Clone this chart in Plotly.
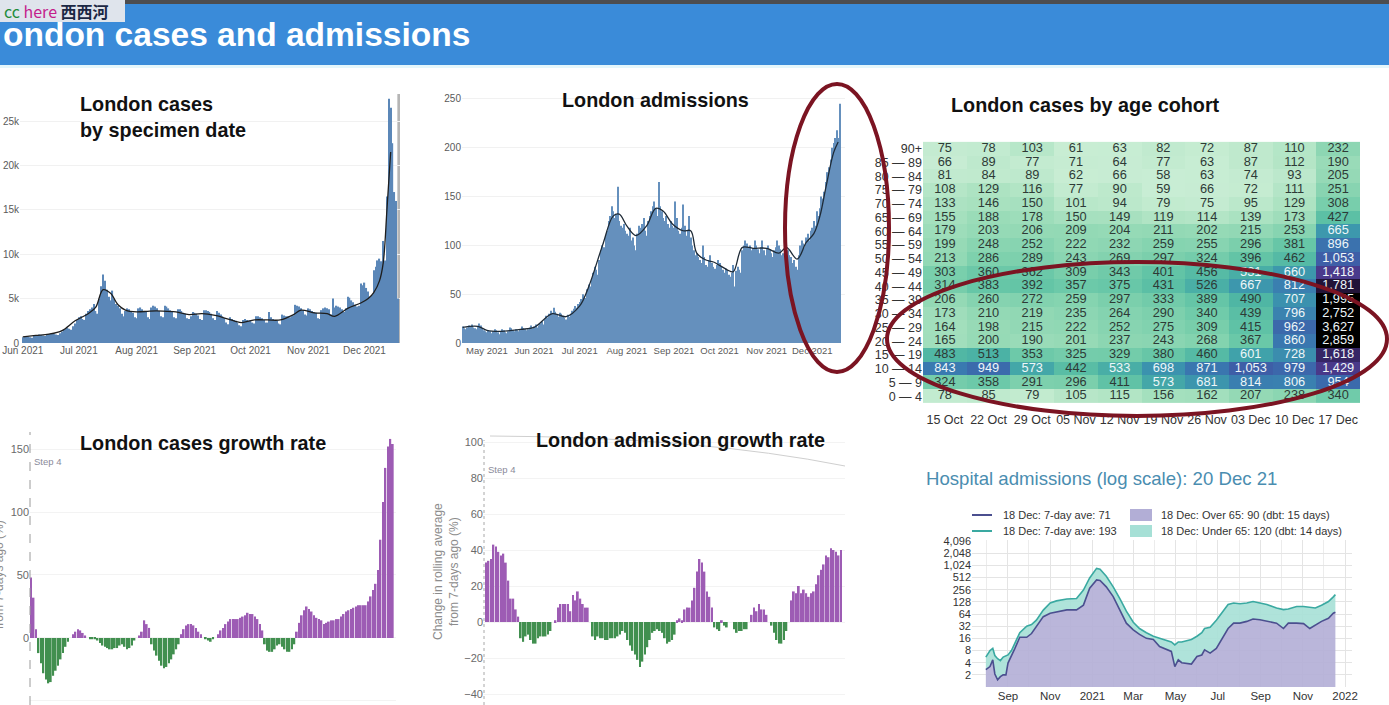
import plotly.graph_objects as go
import pandas as pd

W, H = 1389, 705
def X(px): return px / W
def Y(py): return 1 - py / H

FONT = "Liberation Sans, Arial, sans-serif"

# ---------------- data ----------------
cases_start = "2021-06-01"
cases_daily = [
    650, 700, 720, 700, 650, 600, 800,
    850, 900, 950, 900, 850, 780, 950,
    1000, 1050, 1100, 1000, 950, 900, 1100,
    1300, 1500, 1600, 1700, 1600, 1500, 1900, 2200, 2600,
    2900, 3000, 2700, 2600, 3300, 3600, 3800,
    4000, 4400, 3600, 3300, 5000, 6400, 7700,
    7000, 6000, 5200, 4800, 5900, 5000, 4400,
    4200, 3900, 3300, 3000, 3600, 3900, 3800, 3600, 3400, 2900,
    2800, 3900, 4000, 3800, 3600, 3500, 2900,
    2700, 4000, 4200, 4100, 3900, 3600, 3000,
    2900, 4200, 4100, 3900, 3700, 3500, 2900,
    2800, 3800, 3800, 3600, 3400, 3300, 2800, 2700, 3000, 3500,
    3400, 3300, 3100, 2700, 2600, 3700, 3700,
    3600, 3500, 3300, 2800, 2600, 3600, 3400,
    3200, 3000, 2800, 2300, 2100, 2900, 2700,
    2600, 2500, 2300, 2000, 1900, 2600, 2700, 2600, 2500,
    2500, 2300, 2200, 3000, 3000, 2900, 2800,
    2600, 2300, 2300, 3500, 2900, 2700, 2600,
    2500, 2200, 2100, 3200, 3100, 3000, 3000,
    2900, 3000, 3100, 4300, 4200, 4100, 3900, 3700, 3200, 3100,
    3900, 3800, 3600, 3500, 3400, 2800, 2700,
    3700, 3900, 4000, 3900, 3800, 3200, 5000,
    4000, 4200, 4100, 4000, 3800, 3500, 3900,
    5200, 5100, 4800, 4600, 4300, 4100, 4200, 6700, 6500,
    6800, 6200, 5800, 5200, 5400, 8200, 8600,
    9300, 9500, 9200, 11500, 9300, 16500, 27500,
    26500, 22500, 17000, 16000, 5000,
]
cases_trend_dates = [
    "2021-06-01", "2021-06-08", "2021-06-15", "2021-06-22", "2021-06-29",
    "2021-07-06", "2021-07-10", "2021-07-14", "2021-07-18", "2021-07-22",
    "2021-07-26", "2021-08-01", "2021-08-08", "2021-08-15", "2021-08-22",
    "2021-08-29", "2021-09-05", "2021-09-12", "2021-09-19", "2021-09-26",
    "2021-10-03", "2021-10-10", "2021-10-17", "2021-10-24", "2021-10-28",
    "2021-11-04", "2021-11-11", "2021-11-15", "2021-11-22", "2021-11-29",
    "2021-12-03", "2021-12-06", "2021-12-09", "2021-12-11", "2021-12-13",
    "2021-12-15",
]
cases_trend = [
    700, 850, 1000, 1400, 2500, 3300, 4000, 6000, 5600, 4300,
    3700, 3500, 3600, 3600, 3500, 3200, 3300, 3100, 2700, 2300,
    2600, 2600, 2600, 3200, 3700, 3400, 3300, 3000, 3900, 4500,
    5000, 5700, 7000, 9000, 15000, 21500,
]

adm_start = "2021-04-15"
adm_daily = [
    17, 15, 14, 16, 18, 17, 19, 16, 15, 14, 17, 20, 18, 15, 13, 12,
    11, 13, 12, 10, 12, 14, 13, 11, 9, 12, 14, 13, 11, 10, 12, 16,
    15, 13, 12, 14, 13, 12, 14, 17, 15, 14, 13, 14, 16, 18, 15,
    17, 19, 16, 18, 20, 22, 19, 24, 28, 26, 30, 33, 31, 36, 32,
    29, 27, 31, 30, 28, 26, 24, 29, 27, 30, 33, 35, 38, 36, 40,
    42, 45, 50, 48, 46, 55, 60, 58, 65, 72, 78, 75, 70, 85, 95,
    100, 98, 110, 115, 125, 130, 140, 135, 128, 132, 160, 125, 120, 118, 122, 115,
    112, 110, 118, 105, 108, 100, 95, 112, 120, 118, 122, 128, 115, 110, 125,
    130, 135, 140, 145, 138, 130, 165, 140, 135, 128, 125, 130, 122, 118, 125, 120,
    118, 145, 128, 115, 112, 118, 142, 120, 110, 115, 130, 108, 100, 95, 90,
    92, 88, 85, 82, 100, 88, 80, 78, 85, 90, 82, 78, 76, 80, 85,
    82, 78, 75, 72, 76, 74, 70, 68, 72, 80, 58, 74, 78, 75, 72, 95,
    100, 105, 102, 98, 100, 95, 97, 105, 100, 96, 92, 98, 105, 95, 90,
    97, 100, 96, 92, 88, 95, 98, 105, 100, 96, 90, 92, 108, 120, 95,
    90, 88, 82, 85, 78, 75, 90, 100, 105, 102, 98, 108, 112, 105, 115,
    118, 125, 120, 135, 130, 138, 150, 148, 155, 165, 175, 180, 188, 200,
    205, 210, 218, 210, 245,
]
adm_trend_dates = [
    "2021-04-15", "2021-04-25", "2021-05-01", "2021-05-10", "2021-05-23",
    "2021-06-01", "2021-06-13", "2021-06-22", "2021-07-01", "2021-07-07",
    "2021-07-16", "2021-07-23", "2021-07-27", "2021-08-01", "2021-08-07",
    "2021-08-14", "2021-08-20", "2021-08-25", "2021-08-31", "2021-09-07",
    "2021-09-12", "2021-09-16", "2021-09-22", "2021-09-27", "2021-10-06",
    "2021-10-10", "2021-10-16", "2021-10-23", "2021-11-01", "2021-11-09",
    "2021-11-14", "2021-11-21", "2021-11-27", "2021-12-02", "2021-12-06",
    "2021-12-10", "2021-12-15", "2021-12-18",
]
adm_trend = [
    16, 17, 13, 12, 14, 16, 30, 27, 38, 58,
    100, 130, 132, 120, 110, 120, 138, 135, 122, 115,
    115, 92, 85, 83, 75, 73, 98, 97, 97, 92,
    98, 86, 103, 112, 130, 160, 195, 206,
]

age_groups = ["90+", "85 — 89", "80 — 84", "75 — 79", "70 — 74", "65 — 69",
              "60 — 64", "55 — 59", "50 — 54", "45 — 49", "40 — 44", "35 — 39",
              "30 — 34", "25 — 29", "20 — 24", "15 — 19", "10 — 14", "5 — 9", "0 — 4"]
weeks = ["15 Oct", "22 Oct", "29 Oct", "05 Nov", "12 Nov", "19 Nov",
         "26 Nov", "03 Dec", "10 Dec", "17 Dec"]
cohort_cases = [
    [75, 78, 103, 61, 63, 82, 72, 87, 110, 232],
    [66, 89, 77, 71, 64, 77, 63, 87, 112, 190],
    [81, 84, 89, 62, 66, 58, 63, 74, 93, 205],
    [108, 129, 116, 77, 90, 59, 66, 72, 111, 251],
    [133, 146, 150, 101, 94, 79, 75, 95, 129, 308],
    [155, 188, 178, 150, 149, 119, 114, 139, 173, 427],
    [179, 203, 206, 209, 204, 211, 202, 215, 253, 665],
    [199, 248, 252, 222, 232, 259, 255, 296, 381, 896],
    [213, 286, 289, 243, 269, 297, 324, 396, 462, 1053],
    [303, 360, 362, 309, 343, 401, 456, 531, 660, 1418],
    [314, 383, 392, 357, 375, 431, 526, 667, 812, 1781],
    [206, 260, 272, 259, 297, 333, 389, 490, 707, 1995],
    [173, 210, 219, 235, 264, 290, 340, 439, 796, 2752],
    [164, 198, 215, 222, 252, 275, 309, 415, 962, 3627],
    [165, 200, 190, 201, 237, 243, 268, 367, 860, 2859],
    [483, 513, 353, 325, 329, 380, 460, 601, 728, 1618],
    [843, 949, 573, 442, 533, 698, 871, 1053, 979, 1429],
    [324, 358, 291, 296, 411, 573, 681, 814, 806, 954],
    [78, 85, 79, 105, 115, 156, 162, 207, 238, 340],
]

growth_start = "2021-07-19"
cases_growth = [
    48, 32, 7,
    -12, -20, -28, -33, -36, -35, -30, -26, -22, -17, -12, -7, -3,
    0, 3, 5, 7, 6, 4, 2, 0,
    -1, -1, -1, -2, -4, -6, -7, -8, -9, -9, -8, -8, -6, -5, -7, -9, -8, -6, -2,
    0, 2, 5, 14, 11, 8,
    -5, -10, -14, -18, -22, -24, -23, -20, -17, -13, -9, -5,
    3, 7, 10, 11, 11, 10, 8, 5, 3,
    0, -1, -2, -3, -1, 0,
    3, 6, 8, 11, 13, 15, 15, 15, 15, 16, 17, 18, 20, 19, 19, 17, 15, 11, 6,
    -5, -10, -11, -11, -9, -6, -5, -7, -9, -11, -11, -9, -5,
    5, 12, 18, 22, 25, 23, 21, 18, 16, 15, 14, 11, 12, 13, 14, 14, 15, 15, 17, 19,
    21, 22, 23, 24, 25, 26, 26, 26, 26, 29, 33, 38, 43, 54, 78, 108, 135, 152, 158, 154,
]
adm_growth = [
    33, 34, 35, 43, 42, 39, 37, 38, 33, 23, 13, 13, 7, 3,
    -9, -11, -8, -7, -10, -12, -12, -9, -8, -8, -8, -7, -5,
    0, 1,
    8, 10, 10, 10, 10, 6, 15, 12, 17, 13, 10, 8, 8,
    0,
    -8, -10, -8, -9, -9, -10, -10, -9, -9, -9, -8, -7, -5, -6,
    -10, -13, -16, -18, -21, -25, -22, -18, -14, -10, -6, -5, -4, -5, -6, -9, -12, -11, -10, -7,
    1, 2, 1,
    7, 8, 8, 12, 19, 28, 35, 33, 28, 17, 14, 8,
    -3, -4, -5, 1, -2, -3, 0, 0, -4, -6, -5, -5, -4, -4, 0,
    4, 8, 6, 10, 7, 7, 4, 0,
    -2, -6, -10, -12, -12, -10, -5, 0,
    12, 17, 16, 20, 16, 18, 16, 14, 16, 17, 21, 26, 29, 32, 37, 36, 41, 40, 39, 37, 40,
]

hosp_dates = [
    "2020-07-31", "2020-08-06", "2020-08-10", "2020-08-13", "2020-08-17", "2020-08-21",
    "2020-08-25", "2020-08-29", "2020-09-01", "2020-09-06", "2020-09-11", "2020-09-18",
    "2020-09-28", "2020-10-05", "2020-10-12", "2020-10-22", "2020-11-01", "2020-11-10",
    "2020-11-25", "2020-12-09", "2020-12-19", "2020-12-28", "2021-01-07", "2021-01-12",
    "2021-01-21", "2021-01-31", "2021-02-10", "2021-02-19", "2021-03-01", "2021-03-10",
    "2021-03-20", "2021-03-30", "2021-04-08", "2021-04-18", "2021-04-25", "2021-04-30",
    "2021-05-05", "2021-05-10", "2021-05-17", "2021-05-24", "2021-06-01", "2021-06-08",
    "2021-06-12", "2021-06-20", "2021-06-29", "2021-07-07", "2021-07-16", "2021-07-24",
    "2021-08-02", "2021-08-12", "2021-08-21", "2021-08-31", "2021-09-10", "2021-09-24",
    "2021-10-04", "2021-10-11", "2021-10-23", "2021-11-02", "2021-11-11", "2021-11-19",
    "2021-11-28", "2021-12-08", "2021-12-15", "2021-12-18",
]
hosp_total = [
    5.5, 8, 9, 6, 5, 4.5, 5.5, 6, 6.2, 8, 12, 22,
    32, 35, 45, 80, 120, 135, 150, 155, 250, 500, 860, 820,
    550, 300, 150, 75, 40, 28, 22, 18, 16, 14, 13, 11,
    13, 13, 14, 15, 18, 22, 28, 30, 45, 70, 110, 120,
    115, 120, 130, 120, 110, 90, 82, 85, 98, 98, 95, 90,
    105, 130, 170, 193,
]
hosp_over65 = [
    2.7, 3.2, 4.7, 2.1, 1.5, 1.8, 2, 2, 3.9, 5.7, 9, 17,
    17, 21, 31, 55, 67, 73, 81, 81, 106, 278, 445, 430,
    300, 172, 81, 38, 26, 20, 16, 15, 10, 8.3, 7.6, 3.2,
    4.7, 4.0, 3.9, 3.7, 5.7, 6.2, 8.3, 6.9, 9, 16, 28, 38,
    38, 42, 48, 46, 42, 38, 28, 38, 38, 37, 28, 34,
    42, 50, 67, 71,
]
hosp_ticks = [2, 4, 8, 16, 32, 64, 128, 256, 512, 1024, 2048, 4096]
hosp_xticks = ["2020-09-01", "2020-11-01", "2021-01-01", "2021-03-01", "2021-05-01",
               "2021-07-01", "2021-09-01", "2021-11-01", "2022-01-01"]
hosp_xlabels = ["Sep", "Nov", "2021", "Mar", "May", "Jul", "Sep", "Nov", "2022"]

# ---------------- derived ----------------
cases_dates = pd.date_range(cases_start, periods=len(cases_daily), freq="D")
adm_dates = pd.date_range(adm_start, periods=len(adm_daily), freq="D")
cg_dates = pd.date_range(growth_start, periods=len(cases_growth), freq="D")
ag_dates = pd.date_range(growth_start, periods=len(adm_growth), freq="D")

PURPLE = "#9d5cb4"
GREEN = "#418f4f"
BLUE_BAR = "#5b87b8"

fig = go.Figure()

# Panel 1: cases
fig.add_trace(go.Bar(x=cases_dates, y=cases_daily, marker_color=BLUE_BAR,
                     marker_line_width=0, xaxis="x", yaxis="y"))
fig.add_trace(go.Scatter(x=pd.to_datetime(cases_trend_dates), y=cases_trend, mode="lines",
                         line=dict(color="#1e1e1e", width=1.3, shape="spline"),
                         xaxis="x", yaxis="y"))
# Panel 2: admissions
fig.add_trace(go.Bar(x=adm_dates, y=adm_daily, marker_color="#6590bd",
                     marker_line_width=0, xaxis="x2", yaxis="y2"))
fig.add_trace(go.Scatter(x=pd.to_datetime(adm_trend_dates), y=adm_trend, mode="lines",
                         line=dict(color="#1e2a36", width=1.3, shape="spline"),
                         xaxis="x2", yaxis="y2"))

# Panel 3: heatmap
cscale = [
    [0.00, "#d4f1dc"], [0.035, "#c6ecd2"], [0.06, "#b0e4c4"], [0.10, "#96dab6"],
    [0.15, "#7acfac"], [0.20, "#62c4a6"], [0.25, "#4db4a4"], [0.30, "#40a2aa"],
    [0.35, "#3b92ae"], [0.42, "#3a7ab0"], [0.50, "#3c64aa"], [0.60, "#444e9e"],
    [0.71, "#4a3a8c"], [0.80, "#38286a"], [0.89, "#221438"], [0.96, "#060308"],
    [1.00, "#000000"],
]
fig.add_trace(go.Heatmap(z=cohort_cases, x=weeks, y=age_groups, colorscale=cscale,
                         zmin=0, zmax=2000, showscale=False, xgap=0, ygap=0,
                         xaxis="x3", yaxis="y3", hoverinfo="skip"))
tx, ty, tt, tc = [], [], [], []
for r, ag in enumerate(age_groups):
    for c, wk in enumerate(weeks):
        v = cohort_cases[r][c]
        tx.append(wk); ty.append(ag); tt.append(f"{v:,}")
        tc.append("#eef6f8" if v >= 530 else "#2e3a36")
fig.add_trace(go.Scatter(x=tx, y=ty, text=tt, mode="text",
                         textfont=dict(color=tc, size=12.8, family=FONT),
                         xaxis="x3", yaxis="y3", hoverinfo="skip"))

# Panel 4: cases growth
fig.add_trace(go.Bar(x=cg_dates, y=cases_growth,
                     marker_color=[PURPLE if v > 0 else GREEN for v in cases_growth],
                     marker_line_width=0, xaxis="x4", yaxis="y4"))
# Panel 5: admissions growth
fig.add_trace(go.Bar(x=ag_dates, y=adm_growth,
                     marker_color=[PURPLE if v > 0 else GREEN for v in adm_growth],
                     marker_line_width=0, xaxis="x5", yaxis="y5"))

# Panel 6: hospital admissions (log)
hd = pd.to_datetime(hosp_dates)
fig.add_trace(go.Scatter(x=hd, y=[1] * len(hd), mode="lines", line=dict(width=0, color="rgba(0,0,0,0)"),
                         xaxis="x6", yaxis="y6", hoverinfo="skip"))
fig.add_trace(go.Scatter(x=hd, y=hosp_over65, mode="lines", fill="tonexty",
                         fillcolor="rgba(178,174,214,0.9)",
                         line=dict(color="#4b4f8f", width=1.6), xaxis="x6", yaxis="y6"))
fig.add_trace(go.Scatter(x=hd, y=hosp_total, mode="lines", fill="tonexty",
                         fillcolor="rgba(166,224,214,0.9)",
                         line=dict(color="#3aa9a1", width=1.6), xaxis="x6", yaxis="y6"))

tickfont_small = dict(size=10, color="#5a5a5a", family=FONT)

def day_shift(d, days):
    return (pd.Timestamp(d) + pd.Timedelta(days=days)).strftime("%Y-%m-%d %H:%M")

NOAM = dict(automargin=False)

layout = dict(
    template="none",
    width=W, height=H, margin=dict(l=0, r=0, t=0, b=0, pad=0), autosize=False,
    paper_bgcolor="white", plot_bgcolor="white", showlegend=False,
    bargap=0.3, font=dict(family=FONT),
    xaxis=dict(domain=[X(20), X(400)], anchor="y", type="date",
               range=["2021-05-30 12:00", "2021-12-20 00:00"],
               tickformat="%b %Y", dtick="M1", tick0="2021-06-01",
               showgrid=False, zeroline=False, tickfont=tickfont_small, ticks="", **NOAM),
    yaxis=dict(domain=[Y(343), Y(94)], anchor="x", range=[0, 28040], dtick=5000,
               tickformat="~s", gridcolor="#f1f1f1", zeroline=False,
               tickfont=tickfont_small, ticks="", **NOAM),
    xaxis2=dict(domain=[X(462), X(845)], anchor="y2", type="date",
                range=["2021-04-14 14:00", "2021-12-22 12:00"],
                tickformat="%b %Y", dtick="M1", tick0="2021-05-01",
                showgrid=False, zeroline=False,
                tickfont=dict(size=9.5, color="#5a5a5a", family=FONT), ticks="", **NOAM),
    yaxis2=dict(domain=[Y(343), Y(94)], anchor="x2", range=[0, 255.1], dtick=50,
                gridcolor="#f1f1f1", zeroline=False, tickfont=tickfont_small, ticks="", **NOAM),
    xaxis3=dict(domain=[X(923), X(1360)], anchor="y3", showgrid=False, zeroline=False,
                tickmode="array", tickvals=weeks,
                tickfont=dict(size=12.5, color="#333333", family=FONT), ticks="", **NOAM),
    yaxis3=dict(domain=[Y(410), Y(135)], anchor="x3", autorange="reversed",
                showgrid=False, zeroline=False, tickmode="array", tickvals=age_groups,
                tickfont=dict(size=12.5, color="#333333", family=FONT), ticks="", **NOAM),
    xaxis4=dict(domain=[X(30), X(396)], anchor="y4", type="date",
                range=[day_shift(growth_start, -0.45), day_shift(growth_start, len(cases_growth) + 0.3)],
                showticklabels=False, showgrid=False, zeroline=False, **NOAM),
    yaxis4=dict(domain=[0, Y(432)], anchor="x4", range=[-53.2, 163.5],
                tickvals=[-50, 0, 50, 100, 150], gridcolor="#f3f3f3", zeroline=False,
                tickfont=dict(size=11, color="#6a6a6a", family=FONT), ticks="", **NOAM),
    xaxis5=dict(domain=[X(484), X(845)], anchor="y5", type="date",
                range=[day_shift(growth_start, -0.8), day_shift(growth_start, len(adm_growth) + 0.6)],
                showticklabels=False, showgrid=False, zeroline=False, **NOAM),
    yaxis5=dict(domain=[0, Y(435)], anchor="x5", range=[-46.1, 103.9],
                tickvals=[-40, -20, 0, 20, 40, 60, 80, 100], gridcolor="#f3f3f3",
                zeroline=False, tickfont=dict(size=11, color="#6a6a6a", family=FONT), ticks="", **NOAM),
    xaxis6=dict(domain=[X(972), X(1352)], anchor="y6", type="date",
                range=["2020-07-11", "2022-01-11"], tickvals=pd.to_datetime(hosp_xticks),
                ticktext=hosp_xlabels, gridcolor="#e4e4e4", zeroline=False,
                minor=dict(dtick="M1", showgrid=True, gridcolor="#ececec"),
                tickfont=dict(size=11.5, color="#333333", family=FONT), ticks="", **NOAM),
    yaxis6=dict(domain=[Y(687), Y(540)], anchor="x6", type="log", range=[0, 3.637],
                tickvals=hosp_ticks, ticktext=[f"{v:,}" for v in hosp_ticks],
                gridcolor="#e4e4e4", zeroline=False,
                tickfont=dict(size=11, color="#333333", family=FONT), ticks="", **NOAM),
)
fig.update_layout(**layout)

shapes = [
    # header
    dict(type="rect", xref="paper", yref="paper", x0=0, x1=1, y0=Y(4), y1=Y(0),
         fillcolor="#4d4d4f", line_width=0, layer="below"),
    dict(type="rect", xref="paper", yref="paper", x0=0, x1=1, y0=Y(65), y1=Y(4),
         fillcolor="#3a8bd9", line_width=0, layer="below"),
    dict(type="rect", xref="paper", yref="paper", x0=0, x1=1, y0=Y(68), y1=Y(65),
         fillcolor="#e4f6fb", line_width=0, layer="below"),
    dict(type="rect", xref="paper", yref="paper", x0=0, x1=X(125), y0=Y(22), y1=Y(0),
         fillcolor="#dfe4ec", line_width=0, layer="below"),
    # grey incomplete-data band
    dict(type="rect", xref="x", yref="y domain", x0="2021-12-18 14:00", x1="2021-12-20 00:00",
         y0=0, y1=1, fillcolor="#b5b5b5", line_width=0, layer="below"),
    # step 4 lines
    dict(type="line", xref="paper", yref="paper", x0=X(30), x1=X(30), y0=0, y1=Y(432),
         line=dict(color="#9a9a9a", width=1, dash="dash")),
    dict(type="line", xref="paper", yref="paper", x0=X(484), x1=X(484), y0=0, y1=Y(440),
         line=dict(color="#a8a8a8", width=1, dash="dot")),
    # faint artifact curve
    dict(type="path", xref="paper", yref="paper",
         path=f"M {X(490)} {Y(436)} Q {X(700)} {Y(437)} {X(845)} {Y(466)}",
         line=dict(color="#cfcfcf", width=1)),
    # legend samples panel 6
    dict(type="line", xref="paper", yref="paper", x0=X(972), x1=X(992), y0=Y(515), y1=Y(515),
         line=dict(color="#4b4f8f", width=2)),
    dict(type="line", xref="paper", yref="paper", x0=X(972), x1=X(992), y0=Y(531), y1=Y(531),
         line=dict(color="#3aa9a1", width=2)),
    dict(type="rect", xref="paper", yref="paper", x0=X(1130), x1=X(1152), y0=Y(521), y1=Y(509),
         fillcolor="#b2aed6", line_width=0),
    dict(type="rect", xref="paper", yref="paper", x0=X(1130), x1=X(1152), y0=Y(537), y1=Y(525),
         fillcolor="#a6e0d6", line_width=0),
    # red hand-drawn ellipses
    dict(type="circle", xref="paper", yref="paper", x0=X(785), x1=X(889), y0=Y(372), y1=Y(84),
         line=dict(color="#7b1422", width=4)),
    dict(type="circle", xref="paper", yref="paper", x0=X(887), x1=X(1387), y0=Y(416), y1=Y(262),
         line=dict(color="#7b1422", width=4)),
]
fig.update_layout(shapes=shapes)

def ann(text, x, y, size, color="#111111", xanchor="left", yanchor="middle", bold=False,
        angle=0, align="left"):
    return dict(text=(f"<b>{text}</b>" if bold else text), xref="paper", yref="paper",
                x=X(x), y=Y(y), xanchor=xanchor, yanchor=yanchor, showarrow=False,
                textangle=angle, align=align,
                font=dict(size=size, color=color, family=FONT))

TS = 19.8
annotations = [
    dict(text="<span style='color:#1e8c3c'>cc</span> <span style='color:#c41e8c'>here</span> "
              "<b><span style='color:#1a2744'>西西河</span></b>",
         xref="paper", yref="paper", x=X(2), y=Y(11), xanchor="left", yanchor="middle",
         showarrow=False, font=dict(size=16, family="Noto Sans CJK SC, " + FONT)),
    ann("ondon cases and admissions", 1, 35, 33.5, color="#ffffff", bold=True),
    ann("London cases<br>by specimen date", 78, 117, TS, bold=True),
    ann("London admissions", 655, 100, TS, bold=True, xanchor="center"),
    ann("London cases by age cohort", 1085, 105, TS, bold=True, xanchor="center"),
    ann("London cases growth rate", 78, 443, TS, bold=True),
    ann("London admission growth rate", 534, 440, TS, bold=True),
    ann("Hospital admissions (log scale): 20 Dec 21", 924, 478, 18.6, color="#4a8db0"),
    ann("Step 4", 32, 462, 9.5, color="#8a8a9a"),
    ann("Step 4", 486, 469, 9.5, color="#8a8a9a"),
    ann("Change in rolling average<br>from 7-days ago (%)", 446, 572, 12, color="#8c8c8c",
        xanchor="center", angle=-90, align="center"),
    ann("Change in rolling average<br>from 7-days ago (%)", -9, 575, 12, color="#8c8c8c",
        xanchor="center", angle=-90, align="center"),
    ann("18 Dec: 7-day ave: 71", 1001, 515, 11, color="#333333"),
    ann("18 Dec: 7-day ave: 193", 1001, 531, 11, color="#333333"),
    ann("18 Dec: Over 65: 90 (dbt: 15 days)", 1159, 515, 11, color="#333333"),
    ann("18 Dec: Under 65: 120 (dbt: 14 days)", 1159, 531, 11, color="#333333"),
]
fig.update_layout(annotations=annotations)

fig.write_html("out.html", config={"displayModeBar": False},
               post_script="document.body.style.margin='0';document.body.style.overflow='hidden';")
